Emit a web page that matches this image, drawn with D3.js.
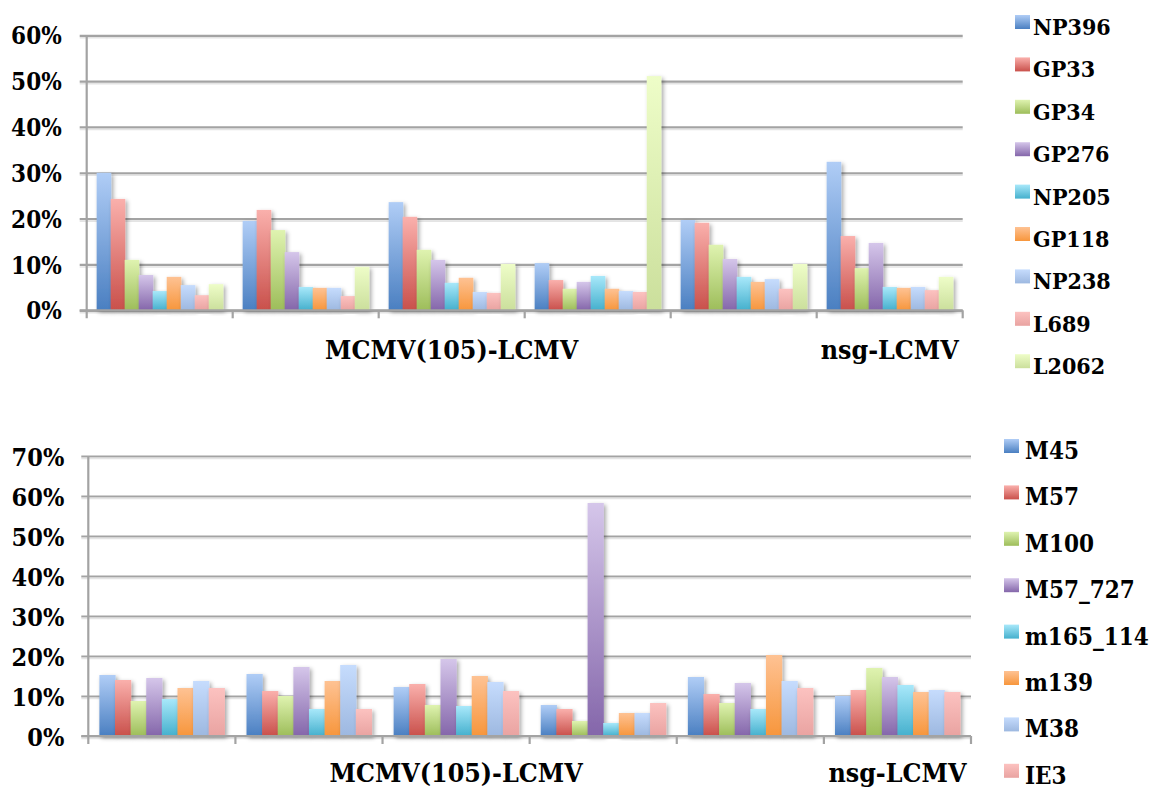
<!DOCTYPE html>
<html>
<head>
<meta charset="utf-8">
<script src="https://cdn.jsdelivr.net/npm/d3@7"></script>
<style>
  html, body { margin: 0; padding: 0; background: #fff; }
  svg { display: block; }
</style>
</head>
<body>
<svg id="chart" width="1152" height="789"></svg>
<script>
// ---------- DATA ----------
const categoryLabels = ["", "", "MCMV(105)-LCMV", "", "", "nsg-LCMV"];

// Top panel (LCMV epitopes), percent
const topSeriesNames = ["NP396", "GP33", "GP34", "GP276", "NP205", "GP118", "NP238", "L689", "L2062"];
const NP396 = [30.0, 19.5, 23.6, 10.3, 19.7, 32.4];
const GP33  = [24.3, 21.9, 20.4, 6.6, 19.1, 16.2];
const GP34  = [11.0, 17.5, 13.2, 4.7, 14.3, 9.2];
const GP276 = [7.7, 12.7, 11.0, 6.2, 11.2, 14.7];
const NP205 = [4.2, 5.1, 6.0, 7.5, 7.3, 5.1];
const GP118 = [7.3, 4.9, 7.1, 4.7, 6.2, 4.9];
const NP238 = [5.5, 4.9, 4.0, 4.2, 6.8, 5.1];
const L689  = [3.3, 3.1, 3.8, 4.0, 4.7, 4.4];
const L2062 = [5.7, 9.5, 10.1, 51.1, 10.1, 7.3];
const topTicks = [0, 10, 20, 30, 40, 50, 60];

// Bottom panel (MCMV epitopes), percent
const bottomSeriesNames = ["M45", "M57", "M100", "M57_727", "m165_114", "m139", "M38", "IE3"];
const M45      = [15.25, 15.5, 12.25, 7.75, 14.75, 10.0];
const M57      = [14.0, 11.25, 13.0, 6.75, 10.5, 11.5];
const M100     = [8.75, 10.0, 7.75, 3.75, 8.25, 17.0];
const M57_727  = [14.5, 17.25, 19.25, 58.25, 13.25, 14.75];
const m165_114 = [9.25, 6.75, 7.5, 3.25, 6.75, 12.75];
const m139     = [12.0, 13.75, 15.0, 5.75, 20.25, 11.0];
const M38      = [13.75, 17.75, 13.5, 5.75, 13.75, 11.5];
const IE3      = [12.0, 6.75, 11.25, 8.25, 12.0, 11.0];
const bottomTicks = [0, 10, 20, 30, 40, 50, 60, 70];

const topValues = [NP396, GP33, GP34, GP276, NP205, GP118, NP238, L689, L2062];
const bottomValues = [M45, M57, M100, M57_727, m165_114, m139, M38, IE3];

// gradient colours (top light, bottom dark) per series slot
const gradTop    = ["#b0cdf6", "#fab0ac", "#dff3b0", "#d5c6ea", "#a8e8fa", "#fec293", "#c6dcfd", "#fcc2c0", "#eefdc8"];
const gradBottom = ["#4a7fc1", "#c9504b", "#9dbd5a", "#8466aa", "#45b0cd", "#f7963c", "#9db8e0", "#e9a3a1", "#cbdf9c"];

const FONT = '"DejaVu Serif", serif';

// ---------- DRAW ----------
const svg = d3.select("#chart");
const defs = svg.append("defs");
gradTop.forEach((c, i) => {
  const g = defs.append("linearGradient").attr("id", "g" + i)
    .attr("x1", 0).attr("y1", 0).attr("x2", 0).attr("y2", 1);
  g.append("stop").attr("offset", "0%").attr("stop-color", c);
  g.append("stop").attr("offset", "100%").attr("stop-color", gradBottom[i]);
});
const f = defs.append("filter").attr("id", "shadow")
  .attr("x", "-30%").attr("y", "-10%").attr("width", "180%").attr("height", "130%");
f.append("feDropShadow").attr("dx", 2).attr("dy", 2).attr("stdDeviation", 2)
  .attr("flood-color", "#000").attr("flood-opacity", 0.35);

function styleText(sel, size) {
  sel.attr("font-family", FONT).style("font-family", FONT)
    .attr("font-weight", "bold").style("font-weight", "bold")
    .attr("font-size", size).style("font-size", size + "px")
    .style("font-stretch", "condensed")
    .attr("fill", "#000");
}

function panel(cfg) {
  const g = svg.append("g");
  const x0 = d3.scaleBand().domain(d3.range(categoryLabels.length))
    .range([cfg.left, cfg.right]).paddingInner(0).paddingOuter(0);
  const x1 = d3.scaleBand().domain(d3.range(cfg.names.length))
    .range([0, x0.bandwidth()]).paddingInner(0).paddingOuter(0.71);
  const y = d3.scaleLinear().domain([0, d3.max(cfg.ticks)]).range([cfg.bottom, cfg.top]);

  // gridlines + tick labels
  const ax = g.append("g").attr("transform", `translate(${cfg.left - 7},0)`)
    .call(d3.axisLeft(y).tickValues(cfg.ticks).tickFormat(d => d + "%")
      .tickSize(-(cfg.right - cfg.left + 7)).tickPadding(cfg.tickPad));
  ax.attr("font-family", null).attr("font-size", null);
  ax.select(".domain").remove();
  ax.selectAll(".tick line").attr("stroke", "#a3a3a3").attr("stroke-width", 2.2);
  ax.selectAll(".tick").append("line")
    .attr("x1", 0).attr("x2", cfg.right - cfg.left + 7).attr("y1", 2).attr("y2", 2)
    .attr("stroke", "#e4e4e4").attr("stroke-width", 1.5);
  styleText(ax.selectAll(".tick text").attr("dy", cfg.tickDy), cfg.tickFont);

  // y axis line
  g.append("line").attr("x1", cfg.left).attr("x2", cfg.left)
    .attr("y1", cfg.top).attr("y2", cfg.bottom + 8)
    .attr("stroke", "#a3a3a3").attr("stroke-width", 2.2);
  // category boundary ticks
  const bounds = d3.range(categoryLabels.length + 1).map(i => i < categoryLabels.length ? x0(i) : cfg.right);
  g.selectAll(".ctick").data(bounds.slice(1)).enter().append("line")
    .attr("x1", d => d).attr("x2", d => d).attr("y1", cfg.bottom).attr("y2", cfg.bottom + 8)
    .attr("stroke", "#a3a3a3").attr("stroke-width", 2.2);

  // bars
  const groups = g.selectAll(".cat").data(categoryLabels.map((c, i) => i)).enter().append("g")
    .attr("transform", i => `translate(${x0(i)},0)`);
  groups.selectAll("rect").data(i => cfg.values.map((arr, s) => ({ s, v: arr[i] })))
    .enter().append("rect")
    .attr("x", d => x1(d.s))
    .attr("y", d => y(d.v))
    .attr("width", x1.bandwidth() + 0.6)
    .attr("height", d => y(0) - y(d.v))
    .attr("fill", d => `url(#g${d.s})`)
    .attr("filter", "url(#shadow)");

  // baseline on top of bars
  g.append("line").attr("x1", cfg.left - 7).attr("x2", cfg.right).attr("y1", cfg.bottom).attr("y2", cfg.bottom)
    .attr("stroke", "#a3a3a3").attr("stroke-width", 2.2);

  // category labels
  styleText(g.selectAll(".clab").data(categoryLabels).enter().append("text")
    .attr("x", (d, i) => x0(i) + x0.bandwidth() / 2)
    .attr("y", cfg.catY)
    .attr("text-anchor", "middle")
    .text(d => d), cfg.catFont);

  // legend
  const lg = g.selectAll(".leg").data(cfg.names).enter().append("g")
    .attr("transform", (d, i) => `translate(${cfg.legX},${cfg.legY + i * cfg.legStep})`);
  lg.append("rect").attr("width", 15).attr("height", 14)
    .attr("fill", (d, i) => `url(#g${i})`);
  styleText(lg.append("text").attr("x", cfg.legTextDx).attr("y", 20).text(d => d), cfg.legFont);
}

panel({
  names: topSeriesNames, values: topValues, ticks: topTicks,
  left: 86.7, right: 962.7, top: 35.3, bottom: 310.3,
  tickPad: 18, tickFont: 24, tickDy: "0.36em",
  catY: 359, catFont: 26.5,
  legX: 1015, legY: 15, legStep: 42.4, legTextDx: 18, legFont: 23
});

panel({
  names: bottomSeriesNames, values: bottomValues, ticks: bottomTicks,
  left: 88.3, right: 971, top: 456, bottom: 736,
  tickPad: 17, tickFont: 25, tickDy: "0.36em",
  catY: 782, catFont: 26.5,
  legX: 1004, legY: 439, legStep: 46.4, legTextDx: 21, legFont: 24
});
</script>
</body>
</html>
